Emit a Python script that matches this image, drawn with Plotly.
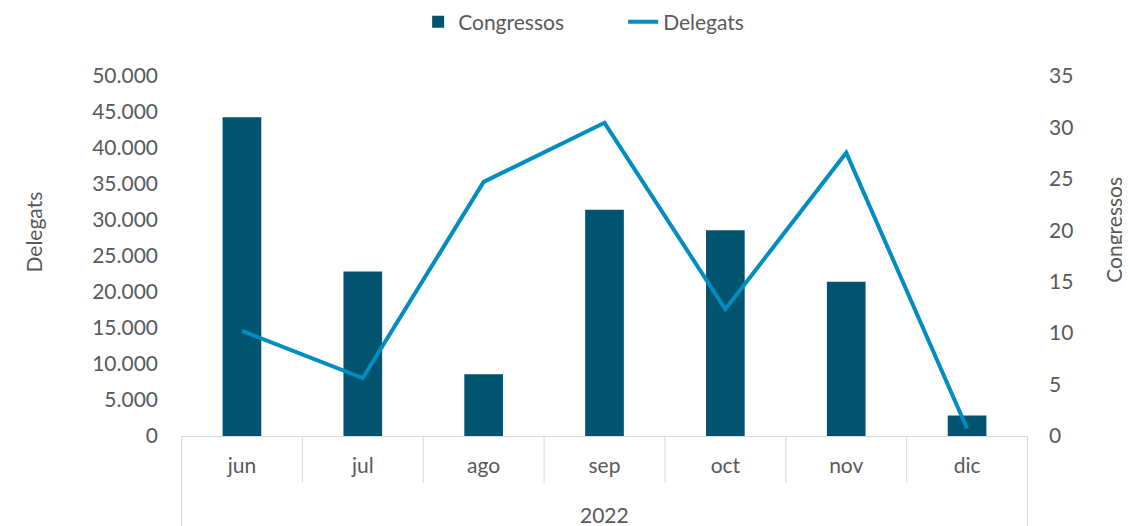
import plotly.graph_objects as go

MONTHS = ["jun", "jul", "ago", "sep", "oct", "nov", "dic"]
YEAR = "2022"
CONGRESSOS = [31, 16, 6, 22, 20, 15, 2]
DELEGATS = [14600, 8050, 35300, 43500, 17600, 39350, 1050]

BAR_COLOR = "#00546F"
LINE_COLOR = "#008DC0"
FONT_COLOR = "#595959"
AXIS_COLOR = "#D9D9D9"
FONT = "Lato, sans-serif"

fig = go.Figure()

# bars on the primary y (placed right) so the line on y2 draws over them
fig.add_trace(go.Bar(
    x=MONTHS,
    y=CONGRESSOS,
    name="Congressos",
    marker=dict(color=BAR_COLOR, line=dict(width=0)),
    yaxis="y",
))

fig.add_trace(go.Scatter(
    x=MONTHS,
    y=DELEGATS,
    name="Delegats",
    mode="lines",
    line=dict(color=LINE_COLOR, width=4),
    yaxis="y2",
))

# category dividers below the x axis (Excel-style multi-level axis)
n = len(MONTHS)
shapes = []
for i in range(n + 1):
    outer = i in (0, n)
    shapes.append(dict(
        type="line", xref="x", yref="paper",
        x0=i - 0.5, x1=i - 0.5,
        y0=0, y1=-0.26 if outer else -0.13,
        line=dict(color=AXIS_COLOR, width=1),
    ))

annotations = [
    dict(text=YEAR, xref="paper", yref="paper", x=0.5, y=-0.219,
         xanchor="center", yanchor="middle", showarrow=False,
         font=dict(size=21, color=FONT_COLOR)),
    dict(text="Delegats", xref="paper", yref="paper", x=-0.174, y=0.567,
         xanchor="center", yanchor="middle", textangle=-90, showarrow=False,
         font=dict(size=21, color=FONT_COLOR)),
    dict(text="Congressos", xref="paper", yref="paper", x=1.1, y=0.572,
         xanchor="center", yanchor="middle", textangle=-90, showarrow=False,
         font=dict(size=21, color=FONT_COLOR)),
]

fig.update_layout(
    width=1122,
    height=518,
    separators=",.",
    font=dict(family=FONT, size=21, color=FONT_COLOR),
    paper_bgcolor="white",
    plot_bgcolor="white",
    margin=dict(l=173, r=102, t=68, b=90, autoexpand=False),
    bargap=0.68,
    shapes=shapes,
    annotations=annotations,
    showlegend=True,
    legend=dict(
        orientation="h",
        x=0.28, xanchor="left",
        y=1.15, yanchor="middle",
        font=dict(size=21, color=FONT_COLOR),
        entrywidth=160,
        entrywidthmode="pixels",
        traceorder="normal",
    ),
    xaxis=dict(
        type="category",
        showline=True,
        linecolor=AXIS_COLOR,
        linewidth=1,
        ticks="",
        showgrid=False,
        automargin=False,
        ticklabelstandoff=11,
        tickfont=dict(size=21, color=FONT_COLOR),
    ),
    yaxis=dict(
        side="right",
        range=[0, 35],
        tickvals=[0, 5, 10, 15, 20, 25, 30, 35],
        showgrid=False,
        zeroline=False,
        ticks="",
        automargin=False,
        ticklabelstandoff=20,
    ),
    yaxis2=dict(
        overlaying="y",
        side="left",
        range=[0, 50000],
        tickvals=list(range(0, 50001, 5000)),
        tickformat=",d",
        showgrid=False,
        zeroline=False,
        ticks="",
        automargin=False,
        ticklabelstandoff=22,
    ),
)

fig.write_html("out.html")
